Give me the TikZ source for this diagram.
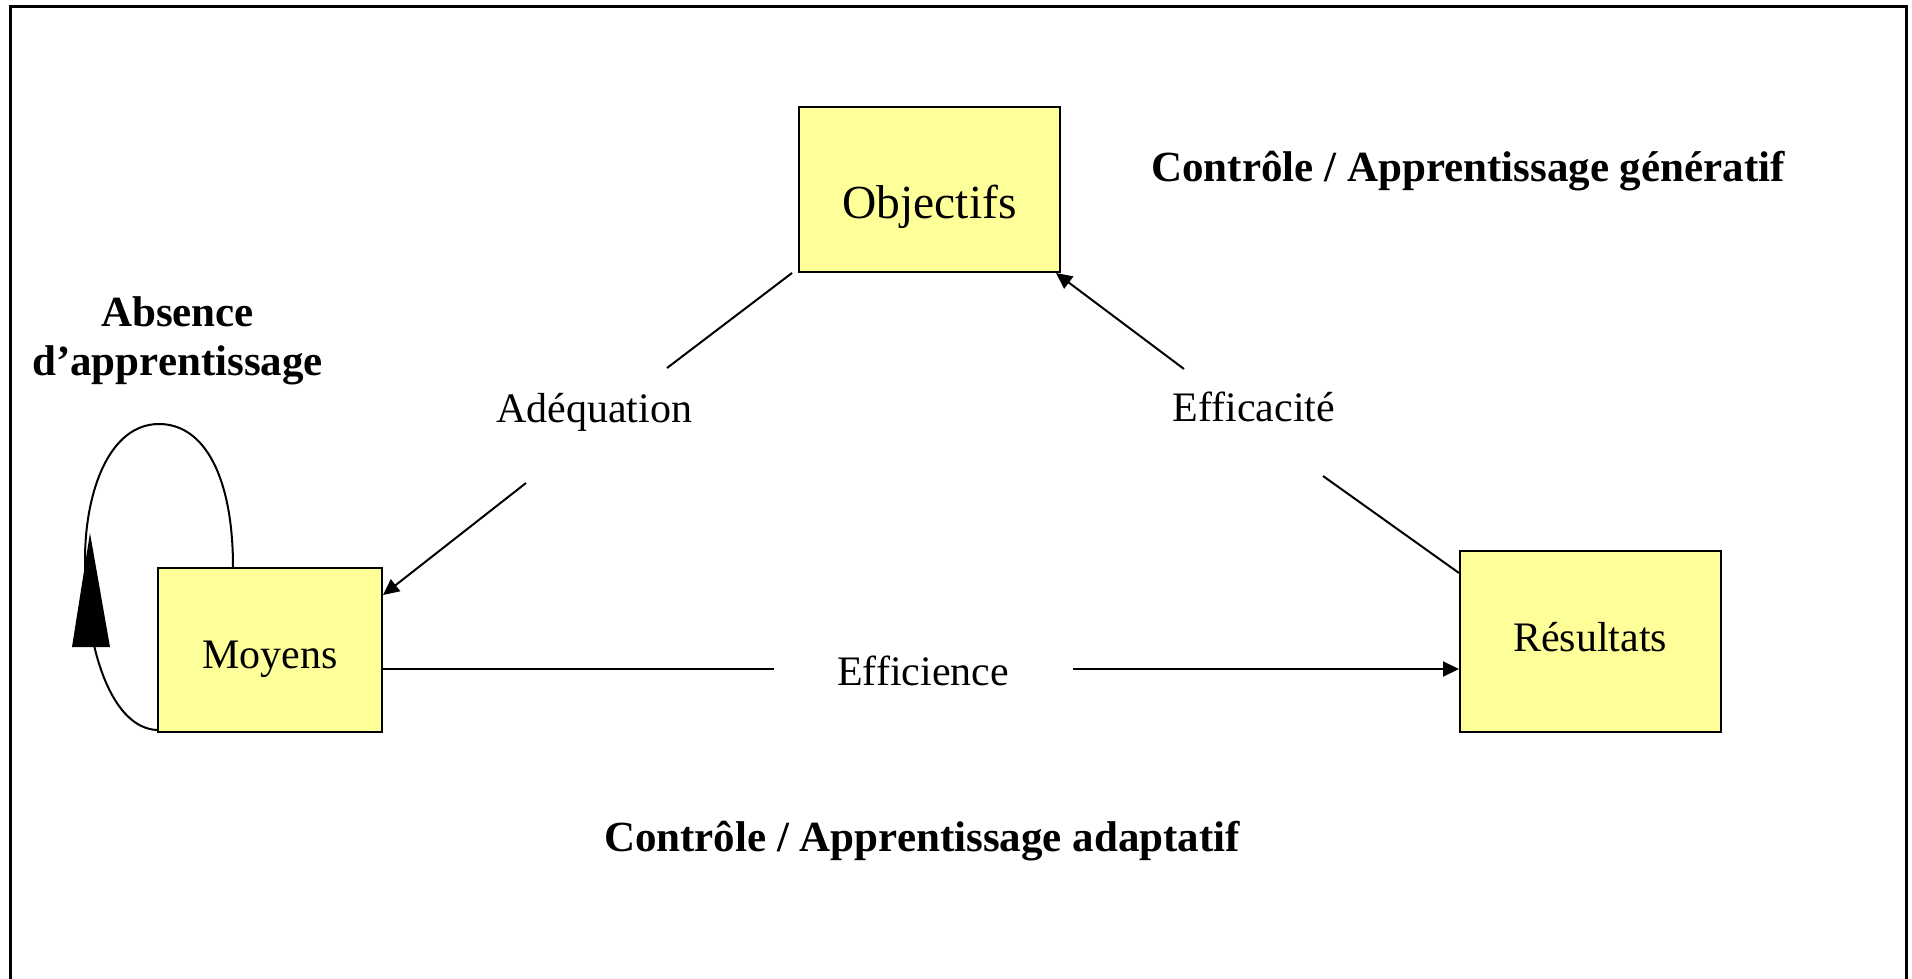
\documentclass[tikz,border=0pt]{standalone}
\usepackage{fontspec}
\setmainfont{Liberation Serif}
\usetikzlibrary{arrows.meta}
\definecolor{boxyellow}{RGB}{255,255,153}
\begin{document}
\begin{tikzpicture}[x=1pt,y=-1pt,
  ybox/.style={draw, line width=2pt, fill=boxyellow, inner sep=0pt},
  lbl/.style={font=\fontsize{42}{50}\selectfont, inner sep=0pt, anchor=base},
  blbl/.style={font=\fontsize{43}{50}\selectfont\bfseries, inner sep=0pt, anchor=base},
  conn/.style={line width=2pt},
  tipend/.style={-{Triangle[length=16pt,width=15pt]}}
]
\useasboundingbox (0,0) rectangle (1912,978);
\fill[white] (0,0) rectangle (1912,978);
\draw[line width=3pt] (10,995) -- (10,6) -- (1906,6) -- (1906,995);

% boxes
\node[ybox, minimum width=261pt, minimum height=165pt] (obj) at (929.5,189.5) {};
\node[lbl, font=\fontsize{47.5}{55}\selectfont] (objT) at (929.5,218) {Objectifs};
\node[ybox, minimum width=224pt, minimum height=164pt] (moy) at (270,650) {};
\node[lbl] (moyT) at (270,668) {Moyens};
\node[ybox, minimum width=261pt, minimum height=181pt] (res) at (1590.5,641.5) {};
\node[lbl] (resT) at (1590,651) {Résultats};

% labels
\node[lbl] (adq) at (594,422) {Adéquation};
\node[lbl] (eff) at (1254,421) {Efficacité};
\node[lbl] (effi) at (923,685) {Efficience};
\node[blbl] (abs1) at (177.5,326) {Absence};
\node[blbl] (abs2) at (177.5,375) {d’apprentissage};
\node[blbl] (gen) at (1468,181) {Contrôle / Apprentissage génératif};
\node[blbl] (adp) at (922,851) {Contrôle / Apprentissage adaptatif};

% Adequation connector
\coordinate (a1) at (667,368);
\coordinate (a2) at (526,483);
\draw[conn] ([xshift=-6pt]obj.south west) -- (a1);
\draw[conn,tipend] (a2) -- ([yshift=-28pt]moy.north east);

% Efficacite connector
\coordinate (e1) at (1323,476);
\coordinate (e2) at (1184,369);
\draw[conn] ([yshift=-23pt]res.north west) -- (e1);
\draw[conn,tipend] (e2) -- ([xshift=-5pt]obj.south east);

% Efficience connector
\coordinate (f1) at (774,669);
\coordinate (f2) at (1073,669);
\draw[conn] (moy.east |- f1) -- (f1);
\draw[conn,tipend] (f2) -- (res.west |- f2);

% self loop
\draw[conn] ([xshift=-37pt]moy.north) .. controls (233,478) and (205,424) .. (159,424)
  .. controls (110,424) and (85,490) .. (85,560)
  .. controls (85,650) and (112,728) .. ([yshift=3pt]moy.south west);
\coordinate (lt) at (90,533);
\fill (lt) -- (72,647) -- (110,647) -- cycle;
\end{tikzpicture}
\end{document}
